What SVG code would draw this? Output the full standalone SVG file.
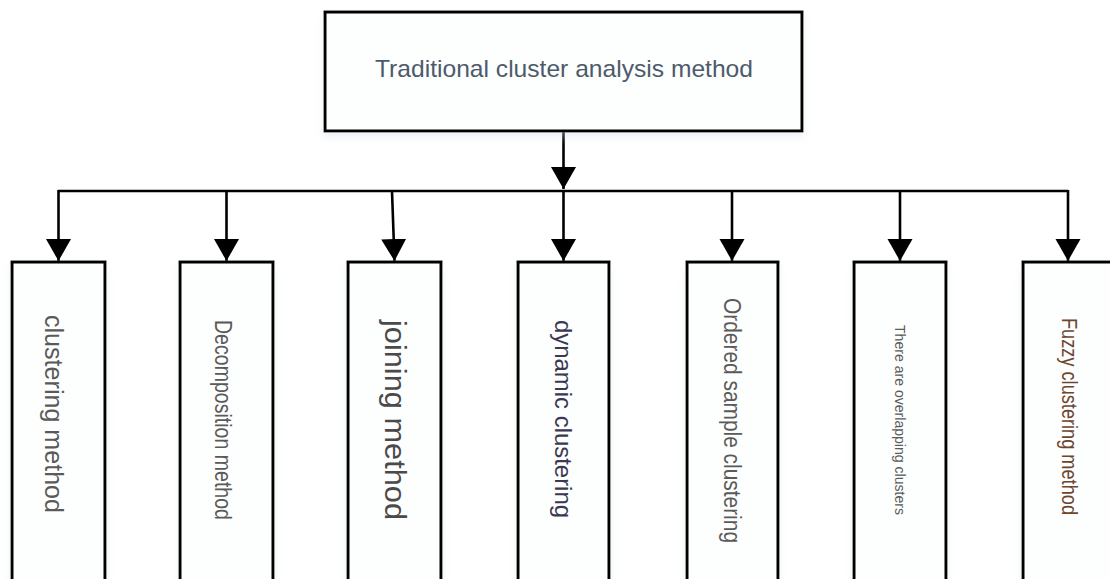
<svg xmlns="http://www.w3.org/2000/svg" width="1110" height="579" viewBox="0 0 1110 579">
  <defs>
    <filter id="sh" x="-10%" y="-10%" width="120%" height="130%">
      <feDropShadow dx="0" dy="5" stdDeviation="4" flood-color="#d3dde8" flood-opacity="0.4"/>
    </filter>
    <marker id="arr" markerUnits="userSpaceOnUse" markerWidth="24" markerHeight="26" refX="22" refY="12.5" orient="auto">
      <path d="M0,0 L22,12.5 L0,25 Z" fill="#000"/>
    </marker>
  </defs>
  <style>
    .box { fill: #fdfefe; stroke: #000; stroke-width: 3; }
    .con { stroke: #000; stroke-width: 2.6; fill: none; }
    .t { font-family: "Liberation Sans", Arial, sans-serif; fill: #5a5a5a; text-anchor: middle; }
  </style>
  <rect width="1110" height="579" fill="#fff"/>

  <g id="connectors">
    <line class="con" x1="563.5" y1="131" x2="563.5" y2="189" marker-end="url(#arr)"/>
    <line class="con" x1="58" y1="191" x2="1068" y2="191"/>
    <line class="con" x1="58.5" y1="190" x2="58.5" y2="261" marker-end="url(#arr)"/>
    <line class="con" x1="226.5" y1="191" x2="226.5" y2="261" marker-end="url(#arr)"/>
    <line class="con" x1="392" y1="191" x2="394.5" y2="261" marker-end="url(#arr)"/>
    <line class="con" x1="563.5" y1="191" x2="563.5" y2="261" marker-end="url(#arr)"/>
    <line class="con" x1="732" y1="191" x2="732" y2="261" marker-end="url(#arr)"/>
    <line class="con" x1="900" y1="191" x2="900" y2="261" marker-end="url(#arr)"/>
    <line class="con" x1="1068" y1="190" x2="1068" y2="261" marker-end="url(#arr)"/>
  </g>

  <g id="root">
    <rect class="box" x="325" y="12" width="477" height="119" filter="url(#sh)"/>
    <text class="t" x="564" y="77" font-size="24" style="fill:#4d5a6b" textLength="378" lengthAdjust="spacingAndGlyphs">Traditional cluster analysis method</text>
  </g>

  <g id="n1">
    <rect class="box" x="12" y="262" width="93" height="340" filter="url(#sh)"/>
    <text class="t" transform="translate(45,414) rotate(90)" font-size="25" textLength="198" lengthAdjust="spacingAndGlyphs">clustering method</text>
  </g>
  <g id="n2">
    <rect class="box" x="180" y="262" width="93" height="340" filter="url(#sh)"/>
    <text class="t" transform="translate(215,420) rotate(90)" font-size="24" textLength="200" lengthAdjust="spacingAndGlyphs">Decomposition method</text>
  </g>
  <g id="n3">
    <rect class="box" x="348" y="262" width="93" height="340" filter="url(#sh)"/>
    <text class="t" transform="translate(385,420) rotate(90)" font-size="29" style="fill:#4a4a4a" textLength="200" lengthAdjust="spacingAndGlyphs">joining method</text>
  </g>
  <g id="n4">
    <rect class="box" x="518" y="262" width="91" height="340" filter="url(#sh)"/>
    <text class="t" transform="translate(555,419) rotate(90)" font-size="24" style="fill:#3b3854" textLength="198" lengthAdjust="spacingAndGlyphs">dynamic clustering</text>
  </g>
  <g id="n5">
    <rect class="box" x="687" y="262" width="91" height="340" filter="url(#sh)"/>
    <text class="t" transform="translate(723.5,420.5) rotate(90)" font-size="23" textLength="245" lengthAdjust="spacingAndGlyphs">Ordered sample clustering</text>
  </g>
  <g id="n6">
    <rect class="box" x="854" y="262" width="92" height="340" filter="url(#sh)"/>
    <text class="t" transform="translate(895,420) rotate(90)" font-size="15.5" textLength="190" lengthAdjust="spacingAndGlyphs">There are overlapping clusters</text>
  </g>
  <g id="n7">
    <rect class="box" x="1023" y="262" width="93" height="340" filter="url(#sh)"/>
    <text class="t" transform="translate(1062,416.5) rotate(90)" font-size="22" style="fill:#6e4630" textLength="197" lengthAdjust="spacingAndGlyphs">Fuzzy clustering method</text>
  </g>
</svg>
